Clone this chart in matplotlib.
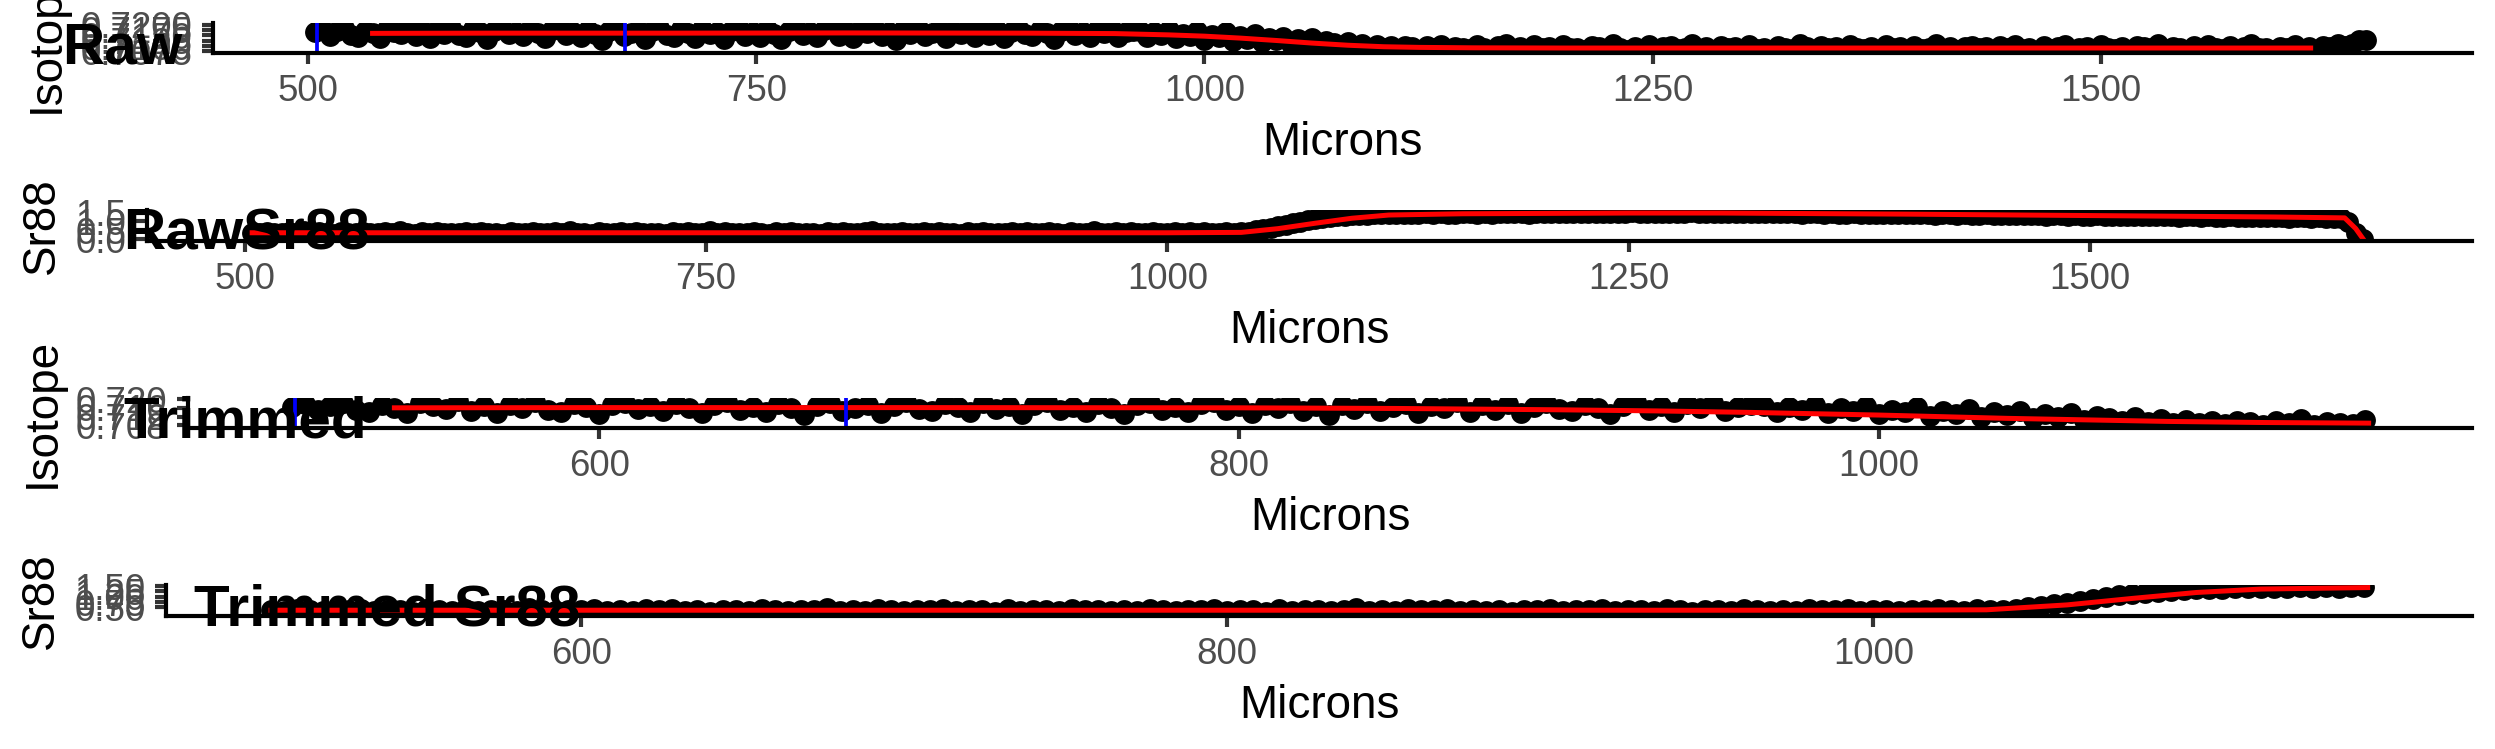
import numpy as np
import matplotlib
matplotlib.use("Agg")
import matplotlib.pyplot as plt
from matplotlib.ticker import FormatStrFormatter

plt.rcParams['font.family'] = ['Liberation Sans', 'DejaVu Sans']

# Posiciones del barrido láser (micras), un punto cada 4 um
microns = np.arange(504, 1649, 4)

# Relación isotópica 87Sr/86Sr en bruto
raw_isotope = [
    # 504 - 960
    0.7165, 0.7178, 0.7148, 0.7170, 0.7184, 0.7152, 0.7141, 0.7172, 0.7160, 0.7137,
    0.7181, 0.7166, 0.7155, 0.7189, 0.7147, 0.7169, 0.7136, 0.7175, 0.7158, 0.7186,
    0.7150, 0.7143, 0.7177, 0.7163, 0.7132, 0.7171, 0.7183, 0.7154, 0.7167, 0.7145,
    0.7179, 0.7159, 0.7138, 0.7173, 0.7188, 0.7151, 0.7164, 0.7140, 0.7176, 0.7157,
    0.7126, 0.7168, 0.7182, 0.7146, 0.7161, 0.7174, 0.7135, 0.7170, 0.7185, 0.7153,
    0.7144, 0.7177, 0.7162, 0.7139, 0.7180, 0.7156, 0.7167, 0.7131, 0.7172, 0.7187,
    0.7149, 0.7165, 0.7142, 0.7178, 0.7158, 0.7134, 0.7171, 0.7183, 0.7152, 0.7163,
    0.7140, 0.7176, 0.7186, 0.7148, 0.7169, 0.7137, 0.7174, 0.7160, 0.7181, 0.7145,
    0.7166, 0.7129, 0.7173, 0.7155, 0.7184, 0.7147, 0.7162, 0.7179, 0.7138, 0.7168,
    0.7157, 0.7185, 0.7143, 0.7171, 0.7150, 0.7177, 0.7136, 0.7164, 0.7182, 0.7154,
    0.7146, 0.7175, 0.7161, 0.7133, 0.7170, 0.7188, 0.7151, 0.7167, 0.7141, 0.7176,
    0.7159, 0.7184, 0.7144, 0.7163, 0.7172,
    # 964 - 1112 (caída)
    0.7170, 0.7142, 0.7163, 0.7150, 0.7175, 0.7137, 0.7158, 0.7145, 0.7168, 0.7130,
    0.7152, 0.7140, 0.7164, 0.7124, 0.7146, 0.7133, 0.7155, 0.7118, 0.7139, 0.7127,
    0.7144, 0.7112, 0.7131, 0.7120, 0.7136, 0.7106, 0.7124, 0.7113, 0.7101, 0.7118,
    0.7097, 0.7109, 0.7093, 0.7104, 0.7090, 0.7102, 0.7088, 0.7099,
    # 1116 - 1648
    0.7094, 0.7083, 0.7101, 0.7089, 0.7107, 0.7080, 0.7096, 0.7091, 0.7085, 0.7104,
    0.7092, 0.7079, 0.7099, 0.7110, 0.7087, 0.7094, 0.7082, 0.7103, 0.7090, 0.7097,
    0.7084, 0.7106, 0.7089, 0.7093, 0.7081, 0.7100, 0.7095, 0.7086, 0.7109, 0.7091,
    0.7083, 0.7098, 0.7088, 0.7104, 0.7079, 0.7094, 0.7101, 0.7087, 0.7092, 0.7112,
    0.7085, 0.7096, 0.7080, 0.7102, 0.7090, 0.7097, 0.7084, 0.7105, 0.7088, 0.7093,
    0.7081, 0.7099, 0.7091, 0.7086, 0.7108, 0.7094, 0.7082, 0.7100, 0.7089, 0.7096,
    0.7078, 0.7103, 0.7092, 0.7087, 0.7098, 0.7084, 0.7106, 0.7090, 0.7095, 0.7083,
    0.7101, 0.7088, 0.7093, 0.7110, 0.7085, 0.7097, 0.7080, 0.7094, 0.7102, 0.7089,
    0.7096, 0.7082, 0.7099, 0.7091, 0.7105, 0.7086, 0.7093, 0.7079, 0.7100, 0.7088,
    0.7095, 0.7107, 0.7084, 0.7092, 0.7098, 0.7081, 0.7103, 0.7090, 0.7087, 0.7096,
    0.7083, 0.7101, 0.7094, 0.7089, 0.7109, 0.7085, 0.7097, 0.7092, 0.7080, 0.7099,
    0.7088, 0.7104, 0.7091, 0.7086, 0.7100, 0.7082, 0.7095, 0.7111, 0.7089, 0.7093,
    0.7084, 0.7098, 0.7090, 0.7106, 0.7087, 0.7094, 0.7081, 0.7102, 0.7096, 0.7108,
    0.7100, 0.7112, 0.7130, 0.7126,
]

# Señal de Sr88 en bruto
raw_sr88 = [
    # 504 - 1036
    0.38, 0.35, 0.42, 0.36, 0.33, 0.40, 0.37, 0.45, 0.34, 0.39,
    0.36, 0.31, 0.41, 0.38, 0.35, 0.43, 0.33, 0.37, 0.40, 0.34,
    0.46, 0.36, 0.32, 0.39, 0.37, 0.42, 0.35, 0.38, 0.33, 0.41,
    0.36, 0.44, 0.34, 0.37, 0.31, 0.40, 0.38, 0.35, 0.43, 0.36,
    0.33, 0.39, 0.37, 0.47, 0.35, 0.38, 0.32, 0.41, 0.36, 0.34,
    0.40, 0.37, 0.43, 0.33, 0.38, 0.36, 0.30, 0.42, 0.35, 0.39,
    0.37, 0.34, 0.45, 0.36, 0.40, 0.33, 0.38, 0.35, 0.41, 0.37,
    0.32, 0.39, 0.36, 0.44, 0.34, 0.38, 0.37, 0.31, 0.42, 0.35,
    0.39, 0.36, 0.33, 0.40, 0.48, 0.35, 0.37, 0.34, 0.41, 0.38,
    0.36, 0.43, 0.33, 0.39, 0.35, 0.37, 0.31, 0.40, 0.36, 0.44,
    0.34, 0.38, 0.36, 0.41, 0.33, 0.39, 0.37, 0.35, 0.42, 0.36,
    0.30, 0.40, 0.37, 0.34, 0.45, 0.38, 0.35, 0.39, 0.33, 0.41,
    0.36, 0.38, 0.43, 0.35, 0.37, 0.40, 0.34, 0.39, 0.36, 0.42,
    0.38, 0.35, 0.41, 0.37,
    # 1040 - 1120 (subida)
    0.40, 0.44, 0.50, 0.57, 0.65, 0.73, 0.82, 0.90, 0.98, 1.06,
    1.13, 1.19, 1.24, 1.28, 1.31, 1.34, 1.36, 1.38, 1.39, 1.41, 1.42,
    # 1124 - 1636 (meseta)
    1.43, 1.41, 1.44, 1.42, 1.45, 1.43, 1.46, 1.44, 1.42, 1.45,
    1.47, 1.44, 1.46, 1.43, 1.47, 1.45, 1.48, 1.46, 1.44, 1.47,
    1.45, 1.48, 1.46, 1.49, 1.47, 1.45, 1.48, 1.50, 1.47, 1.49,
    1.46, 1.48, 1.51, 1.47, 1.49, 1.46, 1.50, 1.48, 1.47, 1.49,
    1.51, 1.48, 1.46, 1.49, 1.47, 1.50, 1.48, 1.45, 1.48, 1.46,
    1.49, 1.47, 1.45, 1.48, 1.46, 1.44, 1.47, 1.45, 1.43, 1.46,
    1.44, 1.42, 1.45, 1.43, 1.41, 1.44, 1.42, 1.40, 1.43, 1.41,
    1.39, 1.42, 1.40, 1.38, 1.41, 1.39, 1.37, 1.40, 1.38, 1.36,
    1.39, 1.37, 1.35, 1.38, 1.36, 1.34, 1.37, 1.35, 1.33, 1.36,
    1.34, 1.32, 1.35, 1.33, 1.31, 1.34, 1.32, 1.30, 1.33, 1.31,
    1.29, 1.32, 1.30, 1.28, 1.31, 1.29, 1.27, 1.30, 1.28, 1.26,
    1.29, 1.27, 1.25, 1.28, 1.26, 1.24, 1.27, 1.25, 1.23, 1.26,
    1.24, 1.22, 1.25, 1.23, 1.21, 1.24, 1.22, 1.20, 1.19,
    # 1640 - 1648 (final del barrido)
    0.95, 0.35, 0.02,
]

# Curvas suavizadas (línea roja)
smooth_iso_raw_x = [536, 600, 700, 800, 900, 950, 980, 1000, 1020, 1040, 1060, 1080,
                    1100, 1120, 1150, 1200, 1300, 1400, 1500, 1617]
smooth_iso_raw_y = [0.7159, 0.7160, 0.7160, 0.7161, 0.7160, 0.7158, 0.7152, 0.7146,
                    0.7137, 0.7126, 0.7114, 0.7104, 0.7097, 0.7094, 0.7092, 0.7091,
                    0.7091, 0.7091, 0.7091, 0.7091]
smooth_iso_trim_x = [536, 600, 700, 800, 850, 900, 930, 960, 1000, 1040, 1090, 1120, 1153]
smooth_iso_trim_y = [0.7160, 0.7161, 0.7161, 0.7160, 0.7157, 0.7151, 0.7146, 0.7139,
                     0.7127, 0.7112, 0.7098, 0.7093, 0.7090]
smooth_sr_raw_x = [504, 600, 700, 800, 900, 1000, 1040, 1060, 1080, 1100, 1120, 1160,
                   1250, 1300, 1400, 1500, 1600, 1638, 1644, 1648]
smooth_sr_raw_y = [0.37, 0.37, 0.37, 0.37, 0.37, 0.37, 0.39, 0.60, 0.90, 1.18, 1.36,
                   1.43, 1.47, 1.47, 1.41, 1.33, 1.25, 1.20, 0.60, 0.02]
smooth_sr_trim_x = [504, 600, 700, 800, 900, 1000, 1035, 1060, 1080, 1100, 1120, 1153]
smooth_sr_trim_y = [0.37, 0.37, 0.37, 0.37, 0.37, 0.37, 0.39, 0.62, 0.92, 1.20, 1.36, 1.43]

# Límite del recorte y líneas de referencia (azul)
trim_end = 1153
blue_lines = [505, 677]

panel_labels = ["Raw", "RawSr88", "Trimmed", "Trimmed Sr88"]
y_titles = ["Isotope", "Sr88", "Isotope", "Sr88"]
iso_raw_ticks = [0.7075, 0.7100, 0.7125, 0.7150, 0.7175, 0.7200]
sr_raw_ticks = [0.0, 0.5, 1.0, 1.5]
iso_trim_ticks = [0.708, 0.712, 0.716, 0.720]
sr_trim_ticks = [0.50, 0.75, 1.00, 1.25, 1.50]
raw_x_ticks = [500, 750, 1000, 1250, 1500]
trim_x_ticks = [600, 800, 1000]

W, H = 2495, 749
fig = plt.figure(figsize=(W / 300, H / 300), dpi=300)


def draw_panel(box, x, y, sx, sy, xlim, ylim, xticks, yticks, yfmt, ytitle, vlines):
    """Dibuja un panel estilo ggplot (theme_classic) en la caja dada en píxeles."""
    left, top, right, bottom = box
    ax = fig.add_axes([left / W, 1 - bottom / H, (right - left) / W, (bottom - top) / H])
    ax.plot(x, y, 'o', color='black', markersize=5.0, markeredgewidth=0)
    ax.plot(sx, sy, color='red', linewidth=1.2)
    for v in vlines:
        ax.axvline(v, color='blue', linewidth=0.9)

    ax.set_xlim(*xlim)
    ax.set_ylim(*ylim)
    ax.set_xticks(xticks)
    ax.set_yticks(yticks)
    ax.yaxis.set_major_formatter(FormatStrFormatter(yfmt))

    for side in ['top', 'right']:
        ax.spines[side].set_visible(False)
    for side in ['left', 'bottom']:
        ax.spines[side].set_linewidth(1.0)
        ax.spines[side].set_color('black')
    ax.tick_params(length=2.75, width=1.0, color='#333333', labelcolor='#4D4D4D',
                   labelsize=8.8, pad=2.2)
    ax.set_xlabel('Microns', fontsize=11, labelpad=3.0)
    ax.set_ylabel(ytitle, fontsize=11, labelpad=2.75)
    return ax


# Datos recortados: mismo barrido hasta el final del recorte
microns_trim = microns[microns <= trim_end]
n_trim = len(microns_trim)

draw_panel((213, 23, 2472, 53), microns, raw_isotope, smooth_iso_raw_x, smooth_iso_raw_y,
           (447, 1707), (0.7068, 0.7207), raw_x_ticks, iso_raw_ticks, '%.4f',
           y_titles[0], blue_lines)
draw_panel((147, 210, 2472, 241), microns, raw_sr88, smooth_sr_raw_x, smooth_sr_raw_y,
           (447, 1707), (-0.09, 1.64), raw_x_ticks, sr_raw_ticks, '%.1f',
           y_titles[1], [])
draw_panel((188, 397.5, 2472, 428), microns_trim, raw_isotope[:n_trim],
           smooth_iso_trim_x, smooth_iso_trim_y,
           (471.5, 1185.3), (0.7068, 0.7207), trim_x_ticks, iso_trim_ticks, '%.3f',
           y_titles[2], blue_lines)
draw_panel((166, 585, 2472, 616), microns_trim, raw_sr88[:n_trim],
           smooth_sr_trim_x, smooth_sr_trim_y,
           (471.5, 1185.3), (0.10, 1.55), trim_x_ticks, sr_trim_ticks, '%.2f',
           y_titles[3], [])

# Etiquetas de cada fila (como plot_grid de cowplot)
label_pos = [(62, 21), (123, 208), (123, 395.5), (194, 583)]
for text, (px, py) in zip(panel_labels, label_pos):
    fig.text(px / W, 1 - py / H, text, fontsize=14, fontweight='bold',
             color='black', ha='left', va='top', zorder=10)

fig.savefig('out.png', dpi=300)
plt.close(fig)
